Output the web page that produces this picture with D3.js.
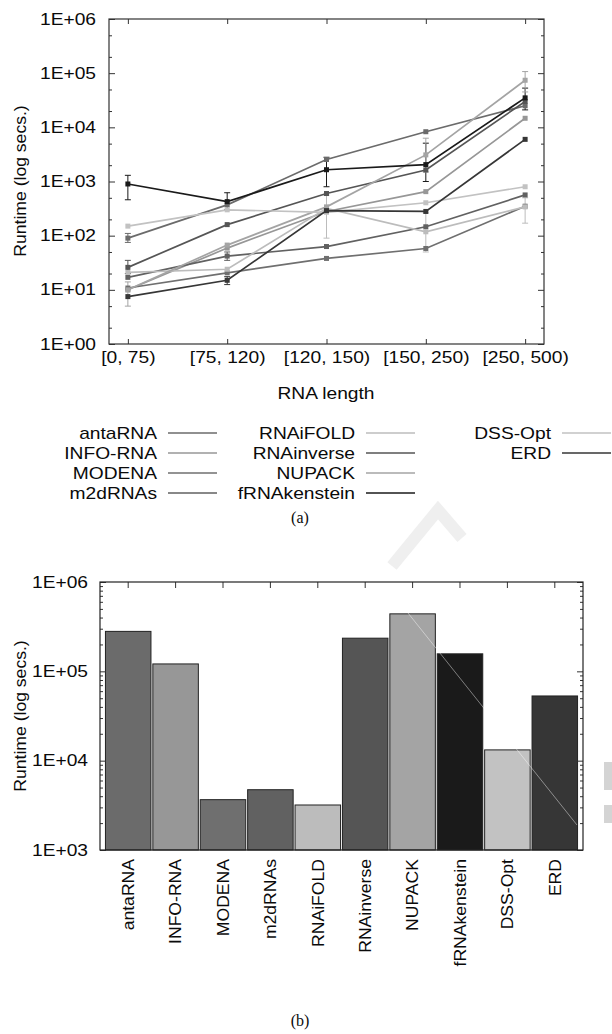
<!DOCTYPE html>
<html>
<head>
<meta charset="utf-8">
<script src="https://cdnjs.cloudflare.com/ajax/libs/d3/7.8.5/d3.min.js"></script>
<style>
body { margin: 0; background: #fff; }
svg text { font-family: "Liberation Sans", Arial, Helvetica, sans-serif; font-size: 16px; fill: #0a0a0a; }
svg text.cap { font-family: "Liberation Serif", "Times New Roman", serif; }
</style>
</head>
<body>
<svg width="612" height="1034"></svg>
<script>
// ---- data ----
var lengths = ["[0, 75)", "[75, 120)", "[120, 150)", "[150, 250)", "[250, 500)"];
var tools = ["antaRNA", "INFO-RNA", "MODENA", "m2dRNAs", "RNAiFOLD",
             "RNAinverse", "NUPACK", "fRNAkenstein", "DSS-Opt", "ERD"];
var shades = ["#6b6b6b", "#979797", "#6f6f6f", "#616161", "#bcbcbc",
              "#555555", "#a4a4a4", "#1a1a1a", "#c2c2c2", "#363636"];

// (a) runtime per RNA length bin, secs
var antaRNA      = [90, 370, 2550, 8300, 25000];
var infoRNA      = [10, 59, 280, 650, 14700];
var modena       = [10.8, 20.6, 38, 58, 350];
var m2dRNAs      = [17, 42, 63, 146, 565];
var rnaifold     = [21, 24, 320, 118, 340];
var rnainverse   = [26, 160, 600, 1630, 30000];
var nupack       = [10, 67, 340, 3100, 74000];
var frnakenstein = [900, 425, 1650, 2050, 35000];
var dssOpt       = [150, 300, 270, 405, 800];
var erd          = [7.5, 15, 290, 280, 6000];

// error bars: tool, bin index, low, high
var errorBars = [
  ["antaRNA", 0, 75, 110],
  ["RNAinverse", 0, 20, 35],
  ["NUPACK", 0, 5, 14],
  ["fRNAkenstein", 0, 460, 1300],
  ["fRNAkenstein", 1, 300, 620],
  ["m2dRNAs", 1, 35, 50],
  ["ERD", 1, 12.5, 17.5],
  ["fRNAkenstein", 2, 800, 2800],
  ["RNAiFOLD", 2, 90, 560],
  ["fRNAkenstein", 3, 1000, 5100],
  ["NUPACK", 3, 1500, 6300],
  ["RNAiFOLD", 3, 50, 263],
  ["fRNAkenstein", 4, 21000, 53000],
  ["NUPACK", 4, 45000, 107000],
  ["RNAiFOLD", 4, 170, 500]
];

// (b) total runtime, secs
var totalRuntime = [280000, 121000, 3660, 4730, 3190, 235000, 440000, 157000, 13200, 53000];

var runtimes = [antaRNA, infoRNA, modena, m2dRNAs, rnaifold,
                rnainverse, nupack, frnakenstein, dssOpt, erd];

var svg = d3.select("svg");

// gnuplot style text is a bit wider than Helvetica
function stretchX(sel, k) {
  sel.each(function() {
    var t = d3.select(this);
    var x = +t.attr("x") || 0;
    t.attr("x", x / k)
     .attr("transform", (t.attr("transform") || "") + " scale(" + k + ",1)");
  });
}
function bare(g) {
  g.select(".domain").remove();
  g.selectAll(".tick line").attr("stroke", "#333");
}
var fmtE = function(d) { return "1E+" + d3.format("02")(Math.round(Math.log10(d))); };

// ================= (a) line chart =================
var x = d3.scalePoint().domain(lengths).range([109, 544]).padding(0.19),
    y = d3.scaleLog().domain([1, 1e6]).range([344, 19]);

var decA = [1, 10, 100, 1e3, 1e4, 1e5, 1e6];
var minorA = [];
decA.slice(0, -1).forEach(function(d) { minorA.push(2 * d, 5 * d); });

var g = svg.append("g");

g.append("g").attr("transform", "translate(109,0)")
  .call(d3.axisLeft(y).tickValues(decA).tickFormat(fmtE).tickSize(-6).tickPadding(13))
  .call(bare)
  .selectAll("text").call(stretchX, 1.2);
g.append("g").attr("transform", "translate(109,0)")
  .call(d3.axisLeft(y).tickValues(minorA).tickFormat("").tickSize(-3)).call(bare);
g.append("g").attr("transform", "translate(544,0)")
  .call(d3.axisRight(y).tickValues(decA).tickFormat("").tickSize(-6)).call(bare);
g.append("g").attr("transform", "translate(544,0)")
  .call(d3.axisRight(y).tickValues(minorA).tickFormat("").tickSize(-3)).call(bare);
g.append("g").attr("transform", "translate(0,344)")
  .call(d3.axisBottom(x).tickSize(-5).tickPadding(8))
  .call(bare)
  .selectAll("text").call(stretchX, 1.2);
g.append("g").attr("transform", "translate(0,19)")
  .call(d3.axisTop(x).tickFormat("").tickSize(-5)).call(bare);

g.append("rect")
  .attr("x", 109).attr("y", 19).attr("width", 435).attr("height", 325)
  .attr("fill", "none").attr("stroke", "#333").attr("stroke-width", 1.2);

var line = d3.line()
  .x(function(d, i) { return x(lengths[i]); })
  .y(function(d) { return y(d); });

// error bars first, lines over them
errorBars.forEach(function(e) {
  var k = tools.indexOf(e[0]), cx = x(lengths[e[1]]);
  var eb = g.append("g").attr("stroke", shades[k]).attr("stroke-width", 1);
  eb.append("line").attr("x1", cx).attr("x2", cx).attr("y1", y(e[2])).attr("y2", y(e[3]));
  eb.append("line").attr("x1", cx - 3).attr("x2", cx + 3).attr("y1", y(e[2])).attr("y2", y(e[2]));
  eb.append("line").attr("x1", cx - 3).attr("x2", cx + 3).attr("y1", y(e[3])).attr("y2", y(e[3]));
});

runtimes.forEach(function(vals, k) {
  g.append("path")
    .attr("class", "line")
    .attr("d", line(vals))
    .attr("fill", "none")
    .attr("stroke", shades[k])
    .attr("stroke-width", 1.7);
  g.selectAll(".pt" + k)
    .data(vals)
    .enter().append("rect")
    .attr("x", function(d, i) { return x(lengths[i]) - 2.5; })
    .attr("y", function(d) { return y(d) - 2.5; })
    .attr("width", 5).attr("height", 5)
    .attr("fill", shades[k]);
});

g.append("text")
  .attr("transform", "translate(26,181) rotate(-90) scale(1.1,1)")
  .attr("text-anchor", "middle")
  .text("Runtime (log secs.)");

g.append("text")
  .attr("transform", "translate(326,399) scale(1.2,1)")
  .attr("text-anchor", "middle")
  .text("RNA length");

// legend, 4 rows per column
var legX = [157, 355, 551];
tools.forEach(function(t, k) {
  var lx = legX[Math.floor(k / 4)], ly = 433 + (k % 4) * 20;
  g.append("text")
    .attr("transform", "translate(" + lx + "," + ly + ") scale(1.2,1)")
    .attr("text-anchor", "end")
    .attr("dy", "0.36em")
    .text(t);
  g.append("line")
    .attr("x1", lx + 11).attr("x2", lx + 60)
    .attr("y1", ly).attr("y2", ly)
    .attr("stroke", shades[k]).attr("stroke-width", 1.7);
});

svg.append("text").attr("class", "cap")
  .attr("x", 300).attr("y", 523).attr("text-anchor", "middle").text("(a)");

// faint watermark between the panels and at the right edge
svg.append("path")
  .attr("d", "M392,566 L438,510 L462,538")
  .attr("fill", "none").attr("stroke", "#efefef").attr("stroke-width", 12);
svg.append("rect").attr("x", 604).attr("y", 762).attr("width", 8).attr("height", 28).attr("fill", "#d4d4d4");
svg.append("rect").attr("x", 604).attr("y", 805).attr("width", 8).attr("height", 18).attr("fill", "#d4d4d4");

// ================= (b) bar chart =================
var xb = d3.scaleBand().domain(tools).range([100, 583]).paddingInner(0.04).paddingOuter(0.115),
    yb = d3.scaleLog().domain([1e3, 1e6]).range([850, 582]);

var decB = [1e3, 1e4, 1e5, 1e6];
var minorB = [];
decB.slice(0, -1).forEach(function(d) {
  for (var m = 2; m <= 9; m++) minorB.push(m * d);
});

var gb = svg.append("g");

gb.selectAll(".bar")
  .data(totalRuntime)
  .enter().append("rect")
  .attr("class", "bar")
  .attr("x", function(d, i) { return xb(tools[i]); })
  .attr("y", function(d) { return yb(d); })
  .attr("width", xb.bandwidth())
  .attr("height", function(d) { return 850 - yb(d); })
  .attr("fill", function(d, i) { return shades[i]; })
  .attr("stroke", "#222")
  .attr("stroke-width", 1);

// thin light scan line crossing the right bars
gb.append("line")
  .attr("x1", 408).attr("y1", 613).attr("x2", 577).attr("y2", 825)
  .attr("stroke", "#fff").attr("stroke-opacity", 0.55).attr("stroke-width", 0.8);

gb.append("g").attr("transform", "translate(100,0)")
  .call(d3.axisLeft(yb).tickValues(decB).tickFormat(fmtE).tickSize(-6).tickPadding(12))
  .call(bare)
  .selectAll("text").call(stretchX, 1.2);
gb.append("g").attr("transform", "translate(100,0)")
  .call(d3.axisLeft(yb).tickValues(minorB).tickFormat("").tickSize(-3)).call(bare);
gb.append("g").attr("transform", "translate(583,0)")
  .call(d3.axisRight(yb).tickValues(decB).tickFormat("").tickSize(-6)).call(bare);
gb.append("g").attr("transform", "translate(583,0)")
  .call(d3.axisRight(yb).tickValues(minorB).tickFormat("").tickSize(-3)).call(bare);
gb.append("g").attr("transform", "translate(0,582)")
  .call(d3.axisTop(xb).tickFormat("").tickSize(-6)).call(bare);

var xAxisB = gb.append("g").attr("transform", "translate(0,850)")
  .call(d3.axisBottom(xb).tickSize(0))
  .call(bare);
xAxisB.selectAll("text")
  .attr("y", 0).attr("dy", "0.36em").attr("x", -9)
  .attr("text-anchor", "end")
  .attr("transform", "rotate(-90)")
  .call(stretchX, 1.1);

gb.append("rect")
  .attr("x", 100).attr("y", 582).attr("width", 483).attr("height", 268)
  .attr("fill", "none").attr("stroke", "#222").attr("stroke-width", 1.2);

gb.append("text")
  .attr("transform", "translate(26,716) rotate(-90) scale(1.1,1)")
  .attr("text-anchor", "middle")
  .text("Runtime (log secs.)");

svg.append("text").attr("class", "cap")
  .attr("x", 300).attr("y", 1026).attr("text-anchor", "middle").text("(b)");
</script>
</body>
</html>
